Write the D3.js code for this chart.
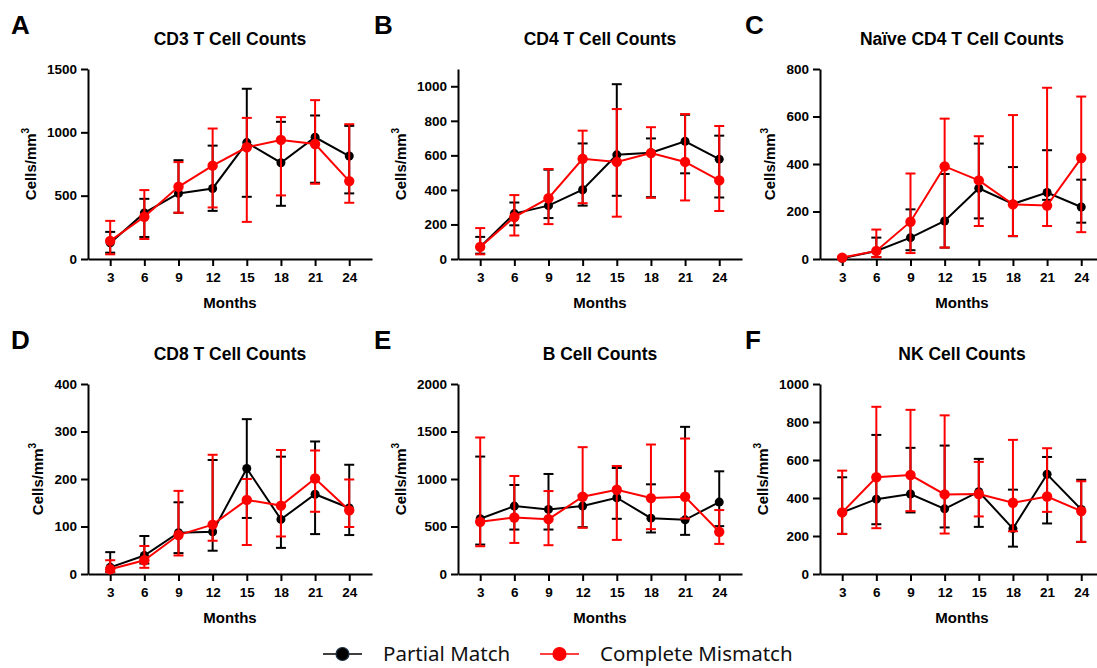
<!DOCTYPE html>
<html>
<head>
<meta charset="utf-8">
<script src="https://cdn.jsdelivr.net/npm/d3@7"></script>
<style>
body { margin: 0; background: #fff; }
svg { display: block; }
</style>
</head>
<body>
<svg id="fig" width="1097" height="668"></svg>
<script>
// months on the x axis
const months = [3, 6, 9, 12, 15, 18, 21, 24];
const seriesNames = ['Partial Match', 'Complete Mismatch'];

// A - CD3
const cd3Partial     = [127, 364, 518, 557, 919, 760, 961, 813];
const cd3PartialLow  = [50, 174, 365, 380, 491, 420, 602, 518];
const cd3PartialHigh = [214, 475, 780, 895, 1344, 1083, 1133, 1051];
const cd3Mismatch     = [143, 333, 570, 737, 882, 940, 908, 615];
const cd3MismatchLow  = [37, 158, 365, 407, 293, 502, 594, 444];
const cd3MismatchHigh = [301, 544, 765, 1030, 1114, 1120, 1254, 1064];

// B - CD4
const cd4Partial     = [70, 263, 309, 401, 603, 615, 681, 578];
const cd4PartialLow  = [31, 195, 237, 309, 366, 358, 496, 356];
const cd4PartialHigh = [128, 327, 517, 669, 1012, 698, 835, 714];
const cd4Mismatch     = [70, 243, 352, 580, 562, 613, 562, 455];
const cd4MismatchLow  = [27, 136, 202, 323, 245, 354, 339, 278];
const cd4MismatchHigh = [179, 370, 521, 743, 868, 763, 839, 770];

// C - naive CD4
const naivePartial     = [3, 34, 90, 160, 298, 232, 280, 219];
const naivePartialLow  = [0, 8, 37, 48, 171, 96, 249, 153];
const naivePartialHigh = [6, 90, 209, 358, 486, 387, 458, 334];
const naiveMismatch     = [6, 34, 157, 390, 331, 230, 225, 425];
const naiveMismatchLow  = [2, 8, 25, 48, 139, 97, 139, 113];
const naiveMismatchHigh = [10, 124, 360, 591, 517, 606, 721, 684];

// D - CD8
const cd8Partial     = [14, 39, 87, 89, 222, 115, 168, 139];
const cd8PartialLow  = [4, 22, 44, 49, 118, 55, 84, 82];
const cd8PartialHigh = [46, 80, 151, 240, 326, 247, 279, 230];
const cd8Mismatch     = [10, 29, 82, 104, 156, 144, 201, 134];
const cd8MismatchLow  = [4, 13, 39, 70, 61, 79, 131, 99];
const cd8MismatchHigh = [29, 59, 175, 251, 200, 261, 260, 199];

// E - B cells
const bPartial     = [581, 715, 680, 715, 803, 588, 570, 757];
const bPartialLow  = [310, 468, 468, 493, 581, 437, 412, 504];
const bPartialHigh = [1236, 937, 1053, 827, 1116, 944, 1549, 1081];
const bMismatch     = [549, 595, 577, 813, 887, 799, 813, 444];
const bMismatchLow  = [292, 327, 303, 486, 359, 472, 584, 317];
const bMismatchHigh = [1437, 1032, 873, 1335, 1137, 1363, 1426, 673];

// F - NK cells
const nkPartial     = [324, 394, 421, 343, 433, 239, 525, 340];
const nkPartialLow  = [211, 262, 324, 245, 248, 144, 266, 169];
const nkPartialHigh = [509, 732, 664, 676, 606, 444, 616, 496];
const nkMismatch     = [324, 509, 521, 419, 421, 375, 408, 331];
const nkMismatchLow  = [211, 241, 331, 213, 303, 225, 327, 169];
const nkMismatchHigh = [544, 880, 864, 835, 590, 706, 662, 488];

// y axis ticks per panel
const cd3Ticks = [0, 500, 1000, 1500];
const cd4Ticks = [0, 200, 400, 600, 800, 1000];
const naiveTicks = [0, 200, 400, 600, 800];
const cd8Ticks = [0, 100, 200, 300, 400];
const bTicks = [0, 500, 1000, 1500, 2000];
const nkTicks = [0, 200, 400, 600, 800, 1000];

const panelLetters = ['A', 'B', 'C', 'D', 'E', 'F'];
const panelTitles = ['CD3 T Cell Counts', 'CD4 T Cell Counts', 'Naïve CD4 T Cell Counts',
                     'CD8 T Cell Counts', 'B Cell Counts', 'NK Cell Counts'];

let panels = [
  { ticks: cd3Ticks, yMax: 1500, partial: [cd3Partial, cd3PartialLow, cd3PartialHigh], mismatch: [cd3Mismatch, cd3MismatchLow, cd3MismatchHigh] },
  { ticks: cd4Ticks, yMax: 1100, partial: [cd4Partial, cd4PartialLow, cd4PartialHigh], mismatch: [cd4Mismatch, cd4MismatchLow, cd4MismatchHigh] },
  { ticks: naiveTicks, yMax: 800, partial: [naivePartial, naivePartialLow, naivePartialHigh], mismatch: [naiveMismatch, naiveMismatchLow, naiveMismatchHigh] },
  { ticks: cd8Ticks, yMax: 400, partial: [cd8Partial, cd8PartialLow, cd8PartialHigh], mismatch: [cd8Mismatch, cd8MismatchLow, cd8MismatchHigh] },
  { ticks: bTicks, yMax: 2000, partial: [bPartial, bPartialLow, bPartialHigh], mismatch: [bMismatch, bMismatchLow, bMismatchHigh] },
  { ticks: nkTicks, yMax: 1000, partial: [nkPartial, nkPartialLow, nkPartialHigh], mismatch: [nkMismatch, nkMismatchLow, nkMismatchHigh] }
];

let colLeft = [88, 458, 820];
let rowTop = [69, 384];
let letterX = [11, 374, 745];
let plotW = 284;
let plotH = 190;

let colors = ['#000000', '#ff0000'];
let radius = [4.5, 5.2];
let font = 'Liberation Sans, Arial, Helvetica, sans-serif';

let svg = d3.select('#fig');

function toRows(arr) {
  return months.map((m, i) => ({ m: m, v: arr[0][i], lo: arr[1][i], hi: arr[2][i] }));
}

panels.forEach(function(p, idx) {
  let col = idx % 3;
  let row = Math.floor(idx / 3);
  let left = colLeft[col];
  let top = rowTop[row];

  let g = svg.append('g').attr('transform', 'translate(' + left + ',' + top + ')');

  let x = d3.scaleLinear().domain([1.05, 26]).range([0, plotW]);
  let y = d3.scaleLinear().domain([0, p.yMax]).range([plotH, 0]);

  // panel letter
  svg.append('text')
    .attr('x', letterX[col])
    .attr('y', top - 35)
    .attr('font-family', font)
    .attr('font-weight', 'bold')
    .attr('font-size', 26)
    .text(panelLetters[idx]);

  // title
  g.append('text')
    .attr('x', plotW / 2)
    .attr('y', -24)
    .attr('text-anchor', 'middle')
    .attr('font-family', font)
    .attr('font-weight', 'bold')
    .attr('font-size', 17.5)
    .text(panelTitles[idx]);

  // axes
  let xAxis = d3.axisBottom(x).tickValues(months).tickSize(7).tickPadding(6).tickSizeOuter(0);
  let yAxis = d3.axisLeft(y).tickValues(p.ticks).tickFormat(d3.format('d')).tickSize(7).tickPadding(4).tickSizeOuter(0);

  let gx = g.append('g').attr('transform', 'translate(0,' + plotH + ')').call(xAxis);
  let gy = g.append('g').call(yAxis);

  [gx, gy].forEach(function(a) {
    a.selectAll('path, line').attr('stroke', '#000').attr('stroke-width', 2);
    a.selectAll('text')
      .attr('font-family', font)
      .attr('font-weight', 'bold')
      .attr('font-size', 13.5)
      .attr('fill', '#000');
  });

  // axis titles
  g.append('text')
    .attr('x', plotW / 2)
    .attr('y', plotH + 49)
    .attr('text-anchor', 'middle')
    .attr('font-family', font)
    .attr('font-weight', 'bold')
    .attr('font-size', 15)
    .text('Months');

  let maxW = d3.max(gy.selectAll('text').nodes(), n => n.getComputedTextLength());
  let yl = g.append('text')
    .attr('transform', 'translate(' + (-(11 + maxW + 11)) + ',' + (plotH / 2) + ') rotate(-90)')
    .attr('text-anchor', 'middle')
    .attr('font-family', font)
    .attr('font-weight', 'bold')
    .attr('font-size', 15);
  yl.append('tspan').text('Cells/mm');
  yl.append('tspan').attr('font-size', 10).attr('dy', -7).text('3');

  // series
  [p.partial, p.mismatch].forEach(function(s, si) {
    let data = toRows(s);
    let c = colors[si];
    let sg = g.append('g');

    sg.selectAll('line.bar')
      .data(data)
      .enter()
      .append('line')
      .attr('x1', d => x(d.m))
      .attr('x2', d => x(d.m))
      .attr('y1', d => y(d.lo))
      .attr('y2', d => y(d.hi))
      .attr('stroke', c)
      .attr('stroke-width', 2);

    ['lo', 'hi'].forEach(function(k) {
      sg.selectAll('line.cap' + k)
        .data(data)
        .enter()
        .append('line')
        .attr('x1', d => x(d.m) - 5)
        .attr('x2', d => x(d.m) + 5)
        .attr('y1', d => y(d[k]))
        .attr('y2', d => y(d[k]))
        .attr('stroke', c)
        .attr('stroke-width', 2);
    });

    let line = d3.line().x(d => x(d.m)).y(d => y(d.v));
    sg.append('path')
      .datum(data)
      .attr('fill', 'none')
      .attr('stroke', c)
      .attr('stroke-width', 2)
      .attr('d', line);

    sg.selectAll('circle')
      .data(data)
      .enter()
      .append('circle')
      .attr('cx', d => x(d.m))
      .attr('cy', d => y(d.v))
      .attr('r', radius[si])
      .attr('fill', c);
  });
});

// legend
let legendX = [323, 540];
let legend = svg.append('g').attr('transform', 'translate(0,654)');
seriesNames.forEach(function(name, i) {
  let lg = legend.append('g').attr('transform', 'translate(' + legendX[i] + ',0)');
  lg.append('line')
    .attr('x1', 0).attr('x2', 39)
    .attr('y1', 0).attr('y2', 0)
    .attr('stroke', colors[i])
    .attr('stroke-width', 1.5);
  lg.append('circle')
    .attr('cx', 19.5).attr('cy', 0)
    .attr('r', 6.5)
    .attr('fill', colors[i])
    .attr('stroke', i == 0 ? '#1d3447' : colors[i])
    .attr('stroke-width', 1.2);
  lg.append('text')
    .attr('x', 60)
    .attr('y', 7)
    .attr('font-family', 'Noto Sans, sans-serif')
    .attr('font-size', 20.5)
    .attr('fill', '#111')
    .text(name);
});
</script>
</body>
</html>
